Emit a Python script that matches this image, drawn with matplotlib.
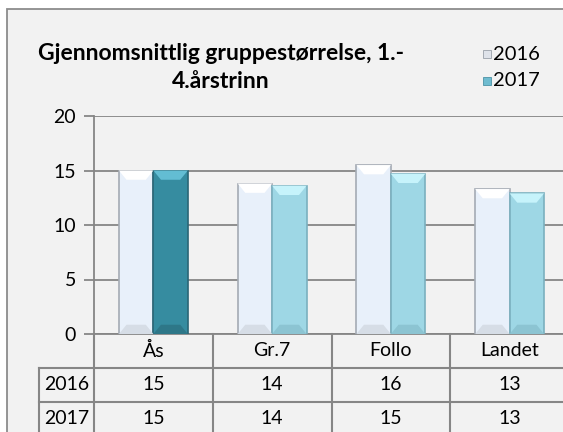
"""Gjennomsnittlig gruppestørrelse, 1.-4. årstrinn: grouped bars with data table."""

import matplotlib
matplotlib.use("Agg")
import matplotlib.pyplot as plt
from matplotlib.patches import Rectangle
import numpy as np


categories = ["Ås", "Gr.7", "Follo", "Landet"]
years = ["2016", "2017"]
values_2016 = [15.0, 13.8, 15.5, 13.3]
values_2017 = [15.0, 13.6, 14.7, 12.9]
table_2016 = ["15", "14", "16", "13"]
table_2017 = ["15", "14", "15", "13"]
y_ticks = [0, 5, 10, 15, 20]

W, H = 563, 432
plt.rcParams["font.family"] = ["Lato", "DejaVu Sans"]
FS = 14

fig = plt.figure(figsize=(W / 100, H / 100), dpi=100)
fig.patch.set_facecolor("white")


def fx(px):
    return px / W


def fy(py):
    return 1 - py / H


# chart area frame
fig.patches.append(Rectangle((fx(7), fy(600)), fx(700), fy(9) - fy(600),
                             transform=fig.transFigure, facecolor="#f2f2f2",
                             edgecolor="#8c8c8c", linewidth=1.3, zorder=-5))

ax = fig.add_axes([fx(94), fy(334), fx(569) - fx(94), fy(116) - fy(334)])
ax.set_facecolor("none")

x = np.arange(len(categories))
bw = 0.29
face16, edge16 = "#e8f0fa", "#a4abb4"
faces17 = ["#368ca0", "#9ed7e5", "#9ed7e5", "#9ed7e5"]
edges17 = ["#2a6676", "#7ab0bf", "#7ab0bf", "#7ab0bf"]
tops17 = ["#63bdd3", "#c6f3fb", "#c6f3fb", "#c6f3fb"]
foot17 = ["#2e7788", "#8cc4d2", "#8cc4d2", "#8cc4d2"]

bars16 = ax.bar(x - bw / 2, values_2016, bw, color=face16, edgecolor=edge16,
                linewidth=1.2, zorder=3)
bars17 = ax.bar(x + bw / 2, values_2017, bw, color=faces17, edgecolor=edges17,
                linewidth=1.2, zorder=3)


def bevel(bar, top_color, foot_color):
    # trapezoid highlight at the top and shade at the foot, sized from the bar itself
    x0, w, h = bar.get_x(), bar.get_width(), bar.get_height()
    inset = w * 0.22
    depth = 0.85
    ax.fill([x0, x0 + w, x0 + w - inset, x0 + inset], [h, h, h - depth, h - depth],
            color=top_color, linewidth=0, zorder=4)
    ax.fill([x0, x0 + w, x0 + w - inset, x0 + inset], [0, 0, depth, depth],
            color=foot_color, linewidth=0, zorder=4)


for b in bars16:
    bevel(b, "white", "#d6dde6")
for b, top, foot in zip(bars17, tops17, foot17):
    bevel(b, top, foot)

ax.set_xlim(-0.5, len(categories) - 0.5)
ax.set_ylim(0, 20)
ax.set_yticks(y_ticks)
ax.set_yticklabels([str(t) for t in y_ticks], fontsize=FS)
ax.set_xticks([])
ax.yaxis.grid(True, color="#868686", linewidth=1.3, zorder=1)
ax.set_axisbelow(True)
ax.tick_params(axis="y", length=7, width=1.3, color="#868686", pad=6)
for side in ("top", "right"):
    ax.spines[side].set_visible(False)
ax.spines["left"].set_color("#868686")
ax.spines["left"].set_linewidth(1.3)
ax.spines["bottom"].set_color("#868686")
ax.spines["bottom"].set_linewidth(1.3)

# data table below the axes
tab = fig.add_axes([fx(94), fy(436), fx(569) - fx(94), fy(334) - fy(436)])
tab.set_xlim(-0.5, len(categories) - 0.5)
tab.set_ylim(3, 0)
tab.axis("off")
label_left = -0.5 - 55 / 118.75
line_kw = dict(color="#868686", linewidth=1.5, clip_on=False)
for r in (1, 2, 3):
    tab.plot([label_left, len(categories) - 0.5], [r, r], **line_kw)
tab.plot([label_left, label_left], [1, 3.2], **line_kw)
for c in range(len(categories) + 1):
    tab.plot([c - 0.5, c - 0.5], [0, 3.2], **line_kw)
for i, cat in enumerate(categories):
    tab.text(i, 0.5, cat, ha="center", va="center", fontsize=FS)
    tab.text(i, 1.5, table_2016[i], ha="center", va="center", fontsize=FS)
    tab.text(i, 2.5, table_2017[i], ha="center", va="center", fontsize=FS)
for r, year in enumerate(years):
    tab.text((label_left - 0.5) / 2, r + 1.5, year, ha="center", va="center", fontsize=FS)

# title
fig.text(fx(221), fy(54), "Gjennomsnittlig gruppestørrelse, 1.-", ha="center", va="center",
         fontsize=16.5, fontweight="bold")
fig.text(fx(221), fy(81), "4.årstrinn", ha="center", va="center",
         fontsize=16.5, fontweight="bold")

# legend
legend_faces = ["#dfe3ea", "#6fbcd0"]
legend_edges = ["#9aa1aa", "#4c93a6"]
for i, year in enumerate(years):
    yc = 54 + 27 * i
    fig.patches.append(Rectangle((fx(483), fy(yc + 4)), fx(8), fy(yc - 4) - fy(yc + 4),
                                 transform=fig.transFigure, facecolor=legend_faces[i],
                                 edgecolor=legend_edges[i], linewidth=0.6))
    fig.text(fx(493), fy(yc), year, ha="left", va="center", fontsize=FS + 0.5)

fig.savefig("out.png", dpi=100)
